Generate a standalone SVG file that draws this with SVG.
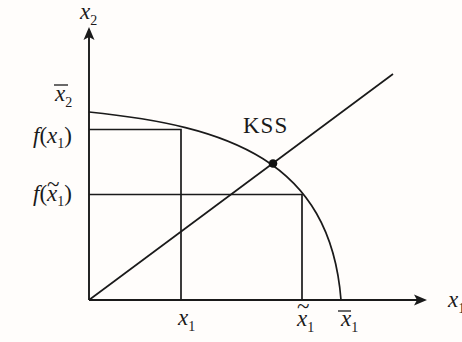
<svg xmlns="http://www.w3.org/2000/svg" width="462" height="342" viewBox="0 0 462 342">
  <style>
    .ln { stroke: #1a1a1a; stroke-width: 1.7; fill: none; }
    .ax { stroke: #1a1a1a; stroke-width: 1.9; fill: none; }
    .ah { fill: #1a1a1a; stroke: none; }
    text { font-family: "Liberation Serif", "Times New Roman", serif; fill: #1a1a1a; font-size: 23px; }
    .it { font-style: italic; }
    .sub { font-size: 14px; }
    .bar { stroke: #1a1a1a; stroke-width: 1.3; }
  </style>
  <rect width="462" height="342" fill="#fffdfb"/>

  <g id="axes">
    <line class="ax" x1="89" y1="300" x2="89" y2="37"/>
    <path class="ah" d="M89,27 L94.5,40 L89,37 L83.5,40 Z"/>
    <line class="ax" x1="89" y1="300" x2="418" y2="300"/>
    <path class="ah" d="M427,300 L414,305.5 L417,300 L414,294.5 Z"/>
  </g>

  <g id="connectors">
    <path id="frontier" class="ln" d="M89,112 C228,126 330,160 341,300"/>
    <line id="diagonal" class="ln" x1="89" y1="300" x2="393" y2="74"/>
    <polyline id="guide-x1" class="ln" points="89,129.5 181,129.5 181,300"/>
    <polyline id="guide-x1t" class="ln" points="89,194.5 302,194.5 302,300"/>
  </g>

  <g id="kss">
    <circle cx="273" cy="163.5" r="4.3" fill="#111"/>
    <text x="243" y="133" font-size="20" letter-spacing="1">KSS</text>
  </g>

  <g id="label-x2-axis">
    <text x="80" y="19"><tspan class="it">x</tspan><tspan class="sub" dy="6">2</tspan></text>
  </g>
  <g id="label-x2bar">
    <line class="bar" x1="54" y1="85" x2="68" y2="85"/>
    <text x="55" y="101"><tspan class="it">x</tspan><tspan class="sub" dy="6">2</tspan></text>
  </g>
  <g id="label-fx1">
    <text x="33" y="143"><tspan class="it">f</tspan>(<tspan class="it">x</tspan><tspan class="sub" dy="5">1</tspan><tspan dy="-5">)</tspan></text>
  </g>
  <g id="label-fx1t">
    <text x="33" y="201"><tspan class="it">f</tspan>(<tspan class="it">x</tspan><tspan class="sub" dy="5">1</tspan><tspan dy="-5">)</tspan></text>
    <text x="47" y="192" font-size="16">~</text>
  </g>
  <g id="label-x1">
    <text x="178" y="325"><tspan class="it">x</tspan><tspan class="sub" dy="6">1</tspan></text>
  </g>
  <g id="label-x1t">
    <text x="297" y="314" font-size="16">~</text>
    <text x="297" y="326"><tspan class="it">x</tspan><tspan class="sub" dy="6">1</tspan></text>
  </g>
  <g id="label-x1bar">
    <line class="bar" x1="338" y1="311" x2="351" y2="311"/>
    <text x="341" y="326"><tspan class="it">x</tspan><tspan class="sub" dy="6">1</tspan></text>
  </g>
  <g id="label-x1-axis">
    <text x="448" y="307"><tspan class="it">x</tspan><tspan class="sub" dy="6">1</tspan></text>
  </g>
</svg>
